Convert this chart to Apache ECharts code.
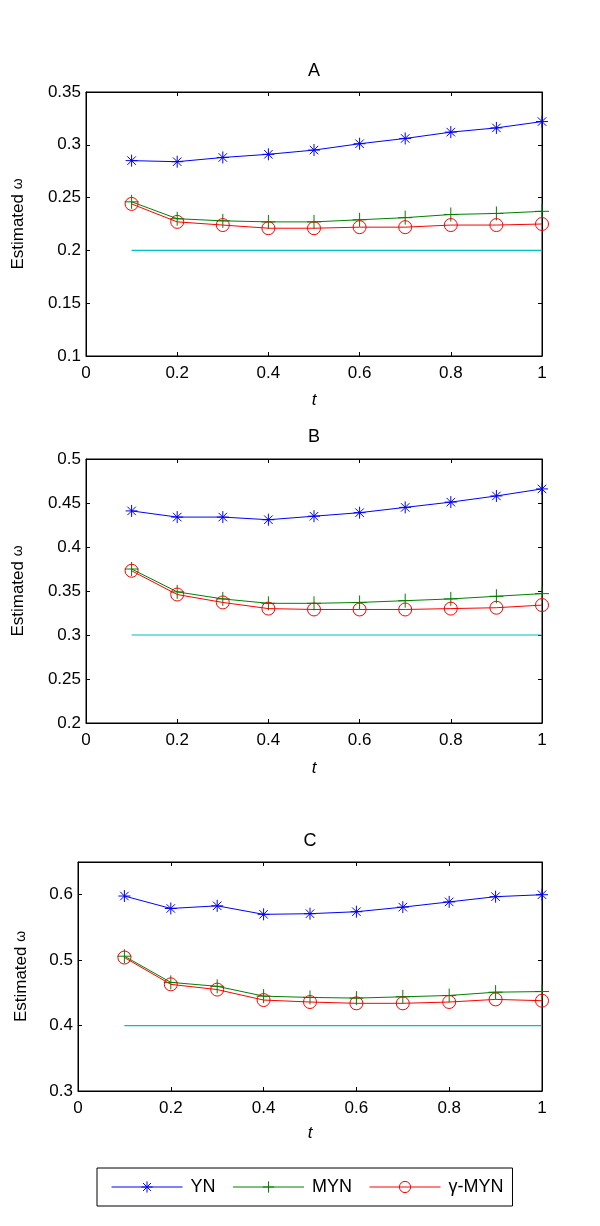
<!DOCTYPE html>
<html>
<head>
<meta charset="utf-8">
<script src="https://cdn.jsdelivr.net/npm/echarts@6/dist/echarts.min.js"></script>
<style>
html,body{margin:0;padding:0;background:#fff;}
#chart{width:600px;height:1226px;}
</style>
</head>
<body>
<div id="chart"></div>
<script>
// ---- data ----
const tValues = [0.1, 0.2, 0.3, 0.4, 0.5, 0.6, 0.7, 0.8, 0.9, 1.0];
const panelTitles = ['A', 'B', 'C'];
const seriesNames = ['YN', 'MYN', 'γ-MYN'];

const aYN   = [0.285, 0.284, 0.288, 0.291, 0.295, 0.301, 0.306, 0.312, 0.316, 0.322];
const aMYN  = [0.246, 0.230, 0.228, 0.227, 0.227, 0.229, 0.231, 0.234, 0.235, 0.237];
const aGMYN = [0.244, 0.227, 0.224, 0.221, 0.221, 0.222, 0.222, 0.224, 0.224, 0.225];

const bYN   = [0.441, 0.434, 0.434, 0.431, 0.435, 0.439, 0.445, 0.451, 0.458, 0.466];
const bMYN  = [0.375, 0.349, 0.341, 0.336, 0.336, 0.337, 0.339, 0.341, 0.344, 0.347];
const bGMYN = [0.373, 0.346, 0.337, 0.330, 0.329, 0.329, 0.329, 0.330, 0.331, 0.334];

const cYN   = [0.598, 0.579, 0.583, 0.570, 0.571, 0.574, 0.581, 0.589, 0.597, 0.600];
const cMYN  = [0.506, 0.466, 0.460, 0.445, 0.443, 0.442, 0.444, 0.446, 0.451, 0.452];
const cGMYN = [0.504, 0.463, 0.455, 0.439, 0.436, 0.434, 0.434, 0.436, 0.440, 0.438];

const trueValues = [0.2, 0.3, 0.4];

const yMins = [0.1, 0.2, 0.3];
const yMaxs = [0.35, 0.5, 0.65];
const yIntervals = [0.05, 0.05, 0.1];

const panelData = [
  [aYN, aMYN, aGMYN],
  [bYN, bMYN, bGMYN],
  [cYN, cMYN, cGMYN]
];

// ---- layout / style ----
const FONT = 'Liberation Sans';
const grids = [
  {left: 86, right: 58, top: 92, height: 264},
  {left: 86, right: 58, top: 459, height: 264},
  {left: 78, right: 58, top: 862, height: 229}
];
const titleTops = [62, 428.5, 832];
const yNameGaps = [59, 59, 48];
const xNameGaps = [36, 37, 34];

const colors = ['#0000ff', '#008000', '#ff0000'];
const refColor = '#00c0c0';
const asterisk = 'path://M10,0L10,20M0,10L20,10M2.93,2.93L17.07,17.07M17.07,2.93L2.93,17.07';
const plus = 'path://M10,0L10,20M0,10L20,10';
const circle = 'circle';
const symbols = [asterisk, plus, circle];
const symbolSizes = [12, 14, 13];

const titles = [], xAxes = [], yAxes = [], series = [];

panelTitles.forEach((pt, i) => {
  const g = grids[i];
  const cx = g.left + (600 - g.left - g.right) / 2;
  titles.push({
    text: pt, left: cx, top: titleTops[i], textAlign: 'center', padding: 0,
    textStyle: {fontFamily: FONT, fontSize: 18, fontWeight: 'normal', color: '#000'}
  });
  const mkLine = () => ({show: true, onZero: false, lineStyle: {color: '#000', width: 1}});
  const mkTick = () => ({show: true, inside: true, length: 4, lineStyle: {color: '#000', width: 1}});
  xAxes.push({
    type: 'value', gridIndex: i, position: 'bottom', min: 0, max: 1, interval: 0.2,
    axisLine: mkLine(), axisTick: mkTick(), splitLine: {show: false},
    axisLabel: {fontFamily: FONT, fontSize: 17, color: '#000', margin: 9},
    name: 't', nameLocation: 'middle', nameGap: xNameGaps[i],
    nameTextStyle: {fontFamily: FONT, fontSize: 17, fontStyle: 'italic', color: '#000'}
  });
  xAxes.push({
    type: 'value', gridIndex: i, position: 'top', min: 0, max: 1, interval: 0.2,
    axisLine: mkLine(), axisTick: mkTick(), splitLine: {show: false}, axisLabel: {show: false}
  });
  yAxes.push({
    type: 'value', gridIndex: i, position: 'left', min: yMins[i], max: yMaxs[i], interval: yIntervals[i],
    axisLine: mkLine(), axisTick: mkTick(), splitLine: {show: false},
    axisLabel: {fontFamily: FONT, fontSize: 17, color: '#000', margin: 5, showMaxLabel: i !== 2},
    name: 'Estimated {w|ω}', nameLocation: 'middle', nameGap: yNameGaps[i], nameRotate: 90,
    nameTextStyle: {fontFamily: FONT, fontSize: 17, color: '#000',
      rich: {w: {fontFamily: FONT, fontSize: 14, color: '#000'}}}
  });
  yAxes.push({
    type: 'value', gridIndex: i, position: 'right', min: yMins[i], max: yMaxs[i], interval: yIntervals[i],
    axisLine: mkLine(), axisTick: mkTick(), splitLine: {show: false}, axisLabel: {show: false}
  });

  // reference (true value) line
  series.push({
    name: 'true' + i, type: 'line', xAxisIndex: 2 * i, yAxisIndex: 2 * i,
    data: [[tValues[0], trueValues[i]], [tValues[tValues.length - 1], trueValues[i]]],
    symbol: 'none', lineStyle: {color: refColor, width: 1.2}, itemStyle: {color: refColor},
    clip: false, silent: true, z: 2
  });
  seriesNames.forEach((sn, k) => {
    const vals = panelData[i][k];
    series.push({
      name: sn, type: 'line', xAxisIndex: 2 * i, yAxisIndex: 2 * i,
      data: tValues.map((t, j) => [t, vals[j]]),
      symbol: symbols[k], symbolSize: symbolSizes[k], showSymbol: true,
      lineStyle: {color: colors[k], width: 1},
      itemStyle: {color: k === 2 ? 'rgba(0,0,0,0)' : colors[k], borderColor: colors[k], borderWidth: 1},
      clip: false, z: 3 + k
    });
  });
});

const chart = echarts.init(document.getElementById('chart'), null, {renderer: 'canvas'});
chart.setOption({
  animation: false,
  backgroundColor: '#fff',
  title: titles,
  grid: grids.map(g => Object.assign({containLabel: false, show: true, borderColor: '#000', borderWidth: 1, backgroundColor: 'rgba(0,0,0,0)'}, g)),
  xAxis: xAxes,
  yAxis: yAxes,
  legend: {
    data: seriesNames.map((n, k) => ({name: n, itemStyle: {color: k === 2 ? 'rgba(0,0,0,0)' : colors[k], borderColor: colors[k], borderWidth: 1}, lineStyle: {color: colors[k], width: 1}})),
    left: 97, top: 1168,
    orient: 'horizontal',
    itemWidth: 71, itemHeight: 14, itemGap: 17,
    padding: [10, 9, 10, 14],
    borderColor: '#000', borderWidth: 1,
    textStyle: {fontFamily: FONT, fontSize: 18, color: '#000', padding: [0, 0, 0, 3]},
    selectedMode: false
  },
  series: series
});
</script>
</body>
</html>
